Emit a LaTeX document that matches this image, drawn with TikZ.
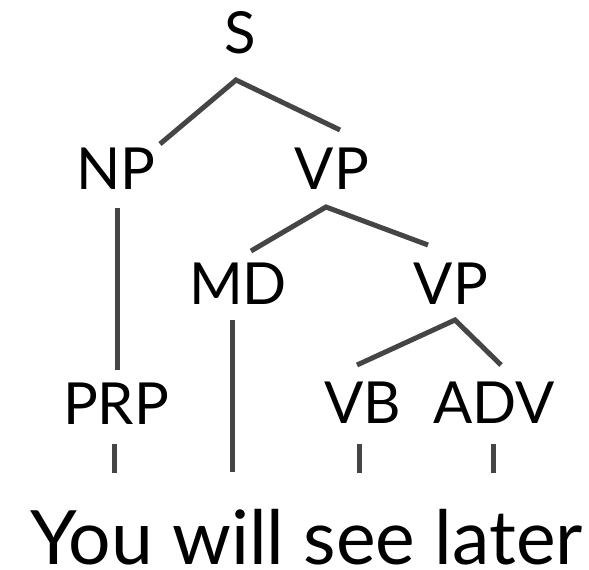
\documentclass[tikz,border=0pt]{standalone}
\usepackage{fontspec}
\setmainfont{Lato}
\usetikzlibrary{calc}
\definecolor{branch}{HTML}{454545}
\tikzset{
  cat/.style={anchor=base,inner sep=0pt,font=\fontsize{58}{60}\selectfont},
  words/.style={anchor=base west,inner sep=0pt,font=\fontsize{75}{80}\selectfont},
  edge/.style={draw=branch,line width=5pt}
}
\begin{document}
\begin{tikzpicture}[x=1pt,y=-1pt]
  \useasboundingbox (0,0) rectangle (589,570);
  % categories
  \node[cat] (S)   at (240,53)  {S};
  \node[cat] (NP)  at (116,189) {NP};
  \node[cat] (VP)  at (332,189) {VP};
  \node[cat] (MD)  at (238,304) {MD};
  \node[cat] (VP2) at (451,304) {VP};
  \node[cat] (PRP) at (116,424) {PRP};
  \node[cat] (VB)  at (363,423) {VB};
  \node[cat] (ADV) at (494,423) {ADV};
  \node[words] (sent) at (30,564) {You will see later};
  % branch points
  \coordinate (S-j)   at ($(S.base)+(-4,27)$);
  \coordinate (VP-j)  at ($(VP.base)+(-6,18)$);
  \coordinate (VP2-j) at ($(VP2.base)+(4,16)$);
  % word tops
  \coordinate (you)   at ($(sent.base west)+(84,-91)$);
  \coordinate (will)  at ($(sent.base west)+(202,-92)$);
  \coordinate (see)   at ($(sent.base west)+(329,-91)$);
  \coordinate (later) at ($(sent.base west)+(463,-91)$);
  % edges
  \draw[edge] ($(NP.base)+(44,-45)$) -- (S-j) -- ($(VP.base)+(8,-59)$);
  \draw[edge] ($(MD.base)+(13,-53)$) -- (VP-j) -- ($(VP2.base)+(-23,-59)$);
  \draw[edge] ($(VB.base)+(-6,-58)$) -- (VP2-j) -- ($(ADV.base)+(7,-58)$);
  \draw[edge] ($(NP.base)+(1,19)$) -- ($(PRP.base)+(1,-54)$);
  \draw[edge] ($(MD.base)+(-6,16)$) -- (will);
  \draw[edge] ($(PRP.base)+(-2,20)$) -- (you);
  \draw[edge] ($(VB.base)+(-4,21)$) -- (see);
  \draw[edge] ($(ADV.base)+(-1,21)$) -- (later);
\end{tikzpicture}
\end{document}
